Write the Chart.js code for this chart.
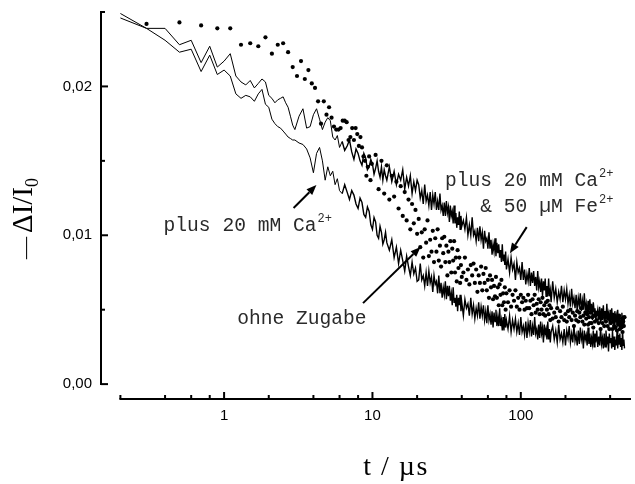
<!DOCTYPE html>
<html>
<head>
<meta charset="utf-8">
<title>Absorptionsabnahme</title>
<script src="https://cdn.jsdelivr.net/npm/chart.js@4.4.0/dist/chart.umd.min.js"></script>
<style>
  html, body { margin: 0; padding: 0; background: #fff; }
  #wrap { width: 635px; height: 484px; }
</style>
</head>
<body>
<div id="wrap"><canvas id="miGrafico" width="635" height="484"></canvas></div>
<script>
// Zeit in µs: Anfang der durchgezogenen Kurven
var tKurvenFrueh = [0.2,0.3,0.4,0.5,0.6,0.7,0.8,0.9,1,1.1,1.2,1.3,1.4,1.5,1.6,1.7,1.8,1.9,2,2.1,2.2,2.3,2.4,2.5,2.6,2.7,2.8,2.9,3,
  3.2,3.4,3.6,3.8,4,4.2,4.4,4.6,4.8,5,5.2,5.4,5.6,5.8,6,
  6.25,6.5,6.75,7,7.25,7.5,7.75,8,8.25,8.5,8.75,9,9.25,9.5,9.75,10,10.25,10.5,10.75,11,11.25,11.5,11.75,12,12.25,
  12.5,13,13.5,14,14.5,15,15.5,16,16.5,17,17.5,18,18.5,19,19.5,20];
// Zeit in µs: Anfang der Punktreihe
var tPunkteFrueh = [0.3,0.5,0.7,0.9,1.1,1.3,1.5,1.7,1.9,2.1,2.3,2.5,2.7,2.9,3.1,3.3,3.5,3.7,3.9,4.1,4.3,4.5,4.7,4.9,5.1,5.3,5.5,5.7,5.9,6.1,6.3,6.5,6.7,6.9,7.1,7.3,7.5,7.7,7.9,8.1,8.3,8.5,8.7,8.9,9.1,9.3,9.5,9.7,9.9,
  10.5,11,11.5,12,12.5,13,13.5,14,14.5,15,15.5,16,16.5,17,17.5,18,18.5,19,19.5,20];
// Zeit in µs ab 20 µs (alle drei Reihen)
var tSpaet = [20.5,21,21.5,22,22.5,23,23.5,24,24.5,25,25.5,26,26.5,27,27.5,28,28.5,29,29.5,30,30.5,31,31.5,32,32.5,33,33.5,34,34.5,35,35.5,36,36.5,37,37.5,38,38.5,39,39.5,40,
  41,42,43,44,45,46,47,48,49,50,51,52,53,54,55,56,57,58,59,60,61,62,63,64,65,66,67,68,69,70,71,72,73,74,75,76,77,78,79,80,
  82,84,86,88,90,92,94,96,98,100,102,104,106,108,110,112,114,116,118,120,122,124,126,128,130,132,134,136,138,140,142,144,146,148,150,152,154,156,158,160,
  164,168,172,176,180,184,188,192,196,200,204,208,212,216,220,224,228,232,236,240,244,248,252,256,260,264,268,272,276,280,284,288,292,296,300,304,308,312,316,320,
  325,330,335,340,345,350,355,360,365,370,375,380,385,390,395,400,405,410,415,420,425,430,435,440,445,450,455,460,465,470,475,480,485,490,495,500];

// plus 20 mM Ca2+ & 50 µM Fe2+
var caFe = [0.0249,0.0239,0.0239,0.0228,0.0231,0.0216,0.0227,0.0213,0.0217,0.0222,0.0207,0.0203,0.0201,0.0204,0.0199,0.0202,0.0205,0.0203,0.0194,0.0192,0.0189,0.0191,0.0192,0.0193,0.0189,0.0186,0.0180,0.0174,0.0171,
  0.0180,0.0185,0.0172,0.0173,0.0181,0.0185,0.0178,0.0171,0.0176,0.0179,0.0177,0.0166,0.0164,0.0167,0.0159,
  0.0163,0.0157,0.0160,0.0164,0.0156,0.0151,0.0158,0.0155,0.0150,0.0147,0.0155,0.0152,0.0144,0.0146,0.0151,0.0148,0.0141,0.0145,0.0150,0.0143,0.0139,0.0146,0.0137,0.0144,0.0140,
  0.0137,0.0146,0.0136,0.0143,0.0134,0.0141,0.0137,0.0144,0.0131,0.0139,0.0133,0.0140,0.0128,0.0136,0.0130,0.0137,
  0.0134,0.0125,0.0130,0.0121,0.0134,0.0123,0.0127,0.0120,0.0129,0.0117,0.0127,0.0121,0.0129,0.0117,0.0123,0.0117,0.0128,0.0117,0.0120,0.0113,
  0.0122,0.0113,0.0123,0.0115,0.0119,0.0109,0.0120,0.0113,0.0116,0.0108,0.0120,0.0108,0.0115,0.0105,0.0112,0.0107,0.0116,0.0104,0.0113,0.0106,
  0.0110,0.0104,0.0112,0.0100,0.0107,0.0100,0.0112,0.0100,0.0103,0.0096,0.0105,0.0096,0.0106,0.0097,0.0102,0.0091,0.0103,0.0096,0.0098,0.0091,
  0.0102,0.0091,0.0097,0.0087,0.0094,0.0089,0.0098,0.0086,0.0095,0.0088,0.0094,0.0085,0.0090,0.0082,0.0094,0.0083,0.0087,0.0080,0.0089,0.0077,
  0.0084,0.0075,0.0085,0.0077,0.0081,0.0070,0.0082,0.0075,0.0078,0.0070,0.0082,0.0070,0.0077,0.0067,0.0074,0.0069,0.0078,0.0066,0.0075,0.0068,
  0.0076,0.0066,0.0072,0.0063,0.0076,0.0065,0.0069,0.0062,0.0071,0.0059,0.0069,0.0063,0.0071,0.0059,0.0066,0.0059,0.0071,0.0059,0.0063,0.0055,
  0.0069,0.0058,0.0064,0.0055,0.0062,0.0057,0.0066,0.0055,0.0063,0.0057,0.0064,0.0054,0.0060,0.0052,0.0064,0.0054,0.0058,0.0051,0.0060,0.0049,
  0.0058,0.0053,0.0061,0.0049,0.0056,0.0050,0.0061,0.0050,0.0054,0.0046,0.0056,0.0047,0.0057,0.0049,0.0054,0.0043,0.0055,0.0049,0.0051,0.0044,
  0.0046,0.0050,0.0043,0.0052,0.0041,0.0051,0.0045,0.0053,0.0042,0.0049,0.0043,0.0054,0.0043,0.0047,0.0040,0.0050,0.0040,0.0051,
  0.0043,0.0048,0.0037,0.0049,0.0043,0.0046,0.0039,0.0050,0.0039,0.0046,0.0037,0.0043,0.0039,0.0048,0.0037,0.0046,0.0039,0.0046];

// plus 20 mM Ca2+
var ca = [0.0246,0.0239,0.0231,0.0223,0.0225,0.0210,0.0221,0.0208,0.0211,0.0207,0.0195,0.0192,0.0194,0.0193,0.0190,0.0195,0.0198,0.0188,0.0186,0.0178,0.0175,0.0173,0.0172,0.0170,0.0168,0.0166,0.0165,0.0164,0.0164,
  0.0162,0.0161,0.0158,0.0152,0.0142,0.0155,0.0159,0.0150,0.0137,0.0146,0.0140,0.0143,0.0134,0.0138,0.0130,
  0.0128,0.0134,0.0129,0.0124,0.0130,0.0127,0.0121,0.0118,0.0125,0.0122,0.0114,0.0112,0.0119,0.0116,0.0107,0.0104,0.0112,0.0109,0.0100,0.0098,0.0106,0.0102,0.0094,0.0097,0.0102,
  0.0095,0.0090,0.0097,0.0085,0.0092,0.0081,0.0090,0.0083,0.0076,0.0086,0.0079,0.0073,0.0082,0.0074,0.0078,0.0069,
  0.0070,0.0081,0.0070,0.0073,0.0066,0.0075,0.0066,0.0076,0.0068,0.0072,0.0062,0.0073,0.0067,0.0069,0.0061,0.0073,0.0061,0.0068,0.0058,0.0065,
  0.0060,0.0069,0.0057,0.0066,0.0059,0.0066,0.0056,0.0061,0.0053,0.0065,0.0055,0.0058,0.0052,0.0060,0.0049,0.0058,0.0053,0.0060,0.0049,0.0055,
  0.0046,0.0057,0.0051,0.0054,0.0046,0.0058,0.0047,0.0053,0.0044,0.0051,0.0046,0.0055,0.0044,0.0052,0.0046,0.0053,0.0043,0.0049,0.0041,0.0053,
  0.0043,0.0047,0.0040,0.0049,0.0038,0.0048,0.0042,0.0050,0.0039,0.0045,0.0039,0.0051,0.0039,0.0043,0.0036,0.0045,0.0036,0.0047,0.0038,0.0043,
  0.0037,0.0046,0.0035,0.0043,0.0037,0.0044,0.0035,0.0041,0.0033,0.0045,0.0035,0.0039,0.0033,0.0042,0.0031,0.0041,0.0035,0.0043,0.0032,0.0039,
  0.0033,0.0045,0.0034,0.0037,0.0030,0.0040,0.0031,0.0042,0.0034,0.0038,0.0028,0.0040,0.0034,0.0037,0.0030,0.0042,0.0030,0.0037,0.0028,0.0035,
  0.0039,0.0030,0.0036,0.0028,0.0040,0.0030,0.0034,0.0028,0.0037,0.0026,0.0036,0.0031,0.0039,0.0028,0.0034,0.0028,0.0040,0.0029,0.0033,0.0026,
  0.0036,0.0027,0.0038,0.0030,0.0034,0.0024,0.0036,0.0030,0.0033,0.0026,0.0038,0.0027,0.0034,0.0025,0.0031,0.0027,0.0036,0.0025,0.0034,0.0028,
  0.0036,0.0025,0.0032,0.0026,0.0038,0.0027,0.0031,0.0024,0.0034,0.0025,0.0036,0.0028,0.0032,0.0022,0.0034,0.0028,0.0031,0.0024,
  0.0036,0.0025,0.0032,0.0023,0.0030,0.0026,0.0035,0.0024,0.0033,0.0027,0.0034,0.0025,0.0031,0.0023,0.0036,0.0026,0.0030,0.0024];

// ohne Zugabe (Punkte)
var ohneZugabe = [0.0242,0.0243,0.0241,0.0239,0.0239,0.0228,0.0229,0.0227,0.0233,0.0222,0.0228,0.0229,0.0223,0.0213,0.0207,0.0217,0.0205,0.0211,0.0202,0.0199,0.0190,0.0175,0.0190,0.0181,0.0186,0.0179,0.0173,0.0171,0.0171,0.0172,0.0177,0.0177,0.0176,0.0164,0.0166,0.0172,0.0164,0.0172,0.0168,0.0160,0.0166,0.0159,0.0153,0.0150,0.0140,0.0146,0.0153,0.0137,0.0148,
  0.0154,0.0131,0.0150,0.0128,0.0147,0.0124,0.0140,0.0126,0.0136,0.0118,0.0133,0.0113,0.0129,0.0110,0.0124,0.0104,0.0121,0.0108,0.0117,0.0101,
  0.0111,0.0092,0.0102,0.0085,0.0104,0.0095,0.0110,0.0086,0.0097,0.0089,0.0103,0.0082,0.0098,0.0089,0.0104,0.0083,0.0093,0.0079,0.0098,0.0088,
  0.0099,0.0082,0.0093,0.0073,0.0089,0.0082,0.0096,0.0075,0.0091,0.0083,0.0096,0.0075,0.0085,0.0069,0.0090,0.0078,0.0085,0.0068,0.0080,0.0072,
  0.0075,0.0085,0.0070,0.0077,0.0067,0.0080,0.0073,0.0081,0.0068,0.0077,0.0062,0.0073,0.0068,0.0079,0.0063,0.0074,0.0068,0.0078,0.0063,0.0070,
  0.0058,0.0073,0.0065,0.0070,0.0057,0.0066,0.0059,0.0072,0.0058,0.0065,0.0053,0.0067,0.0060,0.0070,0.0053,0.0061,0.0055,0.0065,0.0050,0.0061,
  0.0055,0.0063,0.0052,0.0060,0.0056,0.0063,0.0052,0.0058,0.0050,0.0060,0.0055,0.0058,0.0050,0.0056,0.0051,0.0060,0.0051,0.0056,0.0047,0.0057,
  0.0053,0.0060,0.0048,0.0054,0.0050,0.0057,0.0047,0.0055,0.0050,0.0058,0.0047,0.0053,0.0046,0.0055,0.0050,0.0056,0.0047,0.0053,0.0043,0.0051,
  0.0044,0.0048,0.0045,0.0051,0.0042,0.0049,0.0045,0.0052,0.0043,0.0047,0.0042,0.0049,0.0045,0.0050,0.0043,0.0048,0.0039,0.0046,0.0043,0.0049,
  0.0042,0.0048,0.0045,0.0051,0.0042,0.0046,0.0040,0.0048,0.0044,0.0047,0.0040,0.0045,0.0041,0.0048,0.0041,0.0045,0.0038,0.0046,0.0042,0.0048,
  0.0043,0.0047,0.0041,0.0045,0.0037,0.0044,0.0041,0.0047,0.0039,0.0045,0.0042,0.0048,0.0039,0.0044,0.0037,0.0046,0.0041,0.0044,
  0.0037,0.0042,0.0039,0.0046,0.0038,0.0043,0.0036,0.0044,0.0040,0.0046,0.0037,0.0041,0.0038,0.0044,0.0035,0.0042,0.0039,0.0045];

var tKurven = tKurvenFrueh.concat(tSpaet);
var tPunkte = tPunkteFrueh.concat(tSpaet);

// Achsenteilung
var xTicks = [0.2,0.4,0.6,0.8,1,2,4,6,8,10,20,40,60,80,100,200,400];
var xLabels = ['','','','','1','','','','','10','','','','','100','',''];
var yTicks = [0,0.005,0.01,0.015,0.02,0.025];
var yLabels = ['0,00','','0,01','','0,02',''];

// Pfeile: von [t, dI/I0] nach [t, dI/I0]
var pfeile = [
  { von: [2.94, 0.01183], nach: [4.19, 0.01337] },
  { von: [8.64, 0.00544], nach: [21.1, 0.00921] },
  { von: [109.6, 0.01055], nach: [84.4, 0.0088] }
];
// Beschriftungen (Ankerpunkt in Datenkoordinaten)
var texte = [
  { t: 0.391, v: 0.01028, align: 'left', zeilen: [['plus 20 mM Ca', '2+']] },
  { t: 1.227, v: 0.00403, align: 'left', zeilen: [['ohne Zugabe', '']] },
  { t: 331, v: 0.01331, align: 'right', zeilen: [['plus 20 mM Ca', '2+'], ['& 50 \u00b5M Fe', '2+']] }
];

var MONO = '"Liberation Mono", "Courier New", monospace';
var SERIF = '"Liberation Serif", "Times New Roman", serif';
var N_FRUEH = tKurvenFrueh.length;

function puntos(ts, vs) {
  return ts.map(function (t, i) { return { x: t, y: vs[i] }; });
}

// im dichten, verrauschten Teil etwas kraeftiger
function breite(c) {
  return c.p0DataIndex >= 44 ? 1.4 : 1;
}

function flecha(ctx, x1, y1, x2, y2) {
  var a = Math.atan2(y2 - y1, x2 - x1);
  var l = 10, w = 4;
  var bx = x2 - l * Math.cos(a), by = y2 - l * Math.sin(a);
  ctx.beginPath();
  ctx.moveTo(x1, y1);
  ctx.lineTo(bx, by);
  ctx.stroke();
  ctx.beginPath();
  ctx.moveTo(x2, y2);
  ctx.lineTo(bx + w * Math.sin(a), by - w * Math.cos(a));
  ctx.lineTo(bx - w * Math.sin(a), by + w * Math.cos(a));
  ctx.closePath();
  ctx.fill();
}

// Achsen, Pfeile und Texte
var extras = {
  id: 'extras',
  afterDraw: function (chart) {
    var ctx = chart.ctx, xs = chart.scales.x, ys = chart.scales.y, area = chart.chartArea;
    ctx.save();
    ctx.strokeStyle = '#000';
    ctx.fillStyle = '#000';
    ctx.lineWidth = 2;

    var y0 = ys.getPixelForValue(yTicks[0]);
    var y1 = ys.getPixelForValue(yTicks[yTicks.length - 1]);
    ctx.beginPath();
    ctx.moveTo(area.left, y1 - 1);
    ctx.lineTo(area.left, y0 + 1);
    ctx.stroke();
    yTicks.forEach(function (v, i) {
      var y = ys.getPixelForValue(v);
      ctx.beginPath();
      ctx.moveTo(area.left, y);
      ctx.lineTo(area.left + (yLabels[i] ? 7 : 4), y);
      ctx.stroke();
    });

    var xa = xs.getPixelForValue(xTicks[0]);
    ctx.beginPath();
    ctx.moveTo(xa - 1, area.bottom);
    ctx.lineTo(area.right, area.bottom);
    ctx.stroke();
    xTicks.forEach(function (t, i) {
      var x = xs.getPixelForValue(t);
      ctx.beginPath();
      ctx.moveTo(x, area.bottom);
      ctx.lineTo(x, area.bottom - (xLabels[i] ? 7 : 4));
      ctx.stroke();
    });

    pfeile.forEach(function (p) {
      flecha(ctx, xs.getPixelForValue(p.von[0]), ys.getPixelForValue(p.von[1]),
        xs.getPixelForValue(p.nach[0]), ys.getPixelForValue(p.nach[1]));
    });

    ctx.fillStyle = '#2a2a2a';
    ctx.textBaseline = 'alphabetic';
    ctx.textAlign = 'left';
    texte.forEach(function (b) {
      var x0 = xs.getPixelForValue(b.t), yb = ys.getPixelForValue(b.v);
      b.zeilen.forEach(function (z, i) {
        var y = yb + i * 25.5;
        ctx.font = '19.6px ' + MONO;
        var w = ctx.measureText(z[0]).width;
        var x = b.align === 'right' ? x0 - w : x0;
        ctx.fillText(z[0], x, y);
        if (z[1]) {
          ctx.font = '12px ' + MONO;
          ctx.fillText(z[1], x + w + 1, y - 9);
        }
      });
    });

    // Achsentitel
    ctx.fillStyle = '#000';
    ctx.font = '28px ' + SERIF;
    ctx.textAlign = 'center';
    ctx.letterSpacing = '1.5px';
    ctx.fillText('t / \u00b5s', 396, 475);
    ctx.letterSpacing = '0px';

    ctx.save();
    ctx.translate(32, 259);
    ctx.rotate(-Math.PI / 2);
    ctx.textAlign = 'left';
    ctx.font = '22px ' + SERIF;
    ctx.fillText('\u2014', 0, 0);
    var w = ctx.measureText('\u2014').width + 4;
    ctx.font = '29px ' + SERIF;
    ctx.fillText('\u0394I/I', w, 0);
    w += ctx.measureText('\u0394I/I').width;
    ctx.font = '18px ' + SERIF;
    ctx.fillText('0', w, 6);
    ctx.restore();

    ctx.restore();
  }
};

var ctx = document.getElementById('miGrafico').getContext('2d');
var myChart = new Chart(ctx, {
  type: 'scatter',
  data: {
    datasets: [
      {
        label: 'plus 20 mM Ca2+ & 50 \u00b5M Fe2+',
        data: puntos(tKurven, caFe),
        showLine: true,
        borderColor: '#000',
        borderWidth: 1,
        segment: { borderWidth: breite },
        pointRadius: 0
      },
      {
        label: 'plus 20 mM Ca2+',
        data: puntos(tKurven, ca),
        showLine: true,
        borderColor: '#000',
        borderWidth: 1,
        segment: { borderWidth: breite },
        pointRadius: 0
      },
      {
        label: 'ohne Zugabe',
        data: puntos(tPunkte, ohneZugabe),
        showLine: false,
        pointRadius: 2.1,
        pointBorderWidth: 0,
        backgroundColor: '#000'
      }
    ]
  },
  options: {
    responsive: false,
    animation: false,
    devicePixelRatio: 1,
    layout: { padding: { top: 12, right: 0, bottom: 0, left: 0 } },
    plugins: { legend: { display: false }, tooltip: { enabled: false } },
    scales: {
      x: {
        type: 'logarithmic',
        min: 0.148,
        max: 553,
        border: { display: false },
        grid: { display: false, drawTicks: false },
        afterBuildTicks: function (s) { s.ticks = xTicks.map(function (t) { return { value: t }; }); },
        afterFit: function (s) { s.height = 85; s.paddingLeft = 0; s.paddingRight = 0; },
        ticks: {
          autoSkip: false,
          maxRotation: 0,
          padding: 8,
          color: '#000',
          font: { family: 'Liberation Sans, Arial, sans-serif', size: 15 },
          callback: function (v, i) { return xLabels[i]; }
        }
      },
      y: {
        min: -0.001,
        max: 0.025,
        border: { display: false },
        grid: { display: false, drawTicks: false },
        afterBuildTicks: function (s) { s.ticks = yTicks.map(function (v) { return { value: v }; }); },
        afterFit: function (s) { s.width = 101; s.paddingTop = 0; s.paddingBottom = 0; },
        ticks: {
          padding: 9,
          color: '#000',
          font: { family: 'Liberation Sans, Arial, sans-serif', size: 15 },
          callback: function (v, i) { return yLabels[i]; }
        }
      }
    }
  },
  plugins: [extras]
});
</script>
</body>
</html>
